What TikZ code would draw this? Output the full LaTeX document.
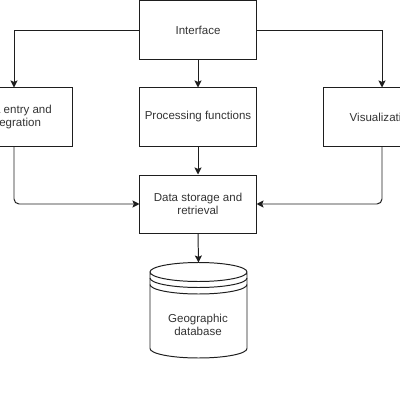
\documentclass[tikz,border=0pt]{standalone}
\usepackage{fontspec}
\setmainfont{Liberation Sans}
\usetikzlibrary{arrows.meta}

\definecolor{inkd}{RGB}{30,30,30}
\definecolor{textd}{RGB}{51,51,51}

\tikzset{
    box/.style = {draw = inkd, line width = 0.7pt, rectangle, minimum width = 2.9cm, minimum height = 1.45cm,
                  align = center, text = textd, font = \fontsize{8.2}{9.5}\selectfont, inner sep = 0pt},
    link/.style = {draw = inkd, line width = 0.7pt, -{Stealth[length = 5pt, width = 5pt, inset = 1pt]}}
}

\begin{document}
\begin{tikzpicture}[x = 0.025cm, y = -0.025cm]
                    \useasboundingbox (0,0) rectangle (400,400);
                    \clip (0,0) rectangle (400,400);
                    \node[box] (iface) at (198,30) {Interface};
                    \node[box] (entry) at (14,117) {Data entry and\\integration};
                    \node[box] (proc) at (198,117) {Processing functions};
                    \node[box] (visual) at (382,117) {Visualization};
                    \node[box] (store) at (198,204) {Data storage and\\retrieval};
                    % database drum
                    \draw[draw = inkd, line width = 0.7pt, fill = white] (150,272) -- (150,348.5)
                        arc[start angle = 180, end angle = 360, x radius = 48.5, y radius = -9.5]
                        -- (247,272) arc[start angle = 0, end angle = 360, x radius = 48.5, y radius = -9.5];
                    \draw[draw = inkd, line width = 0.7pt] (150,278) arc[start angle = 180, end angle = 360, x radius = 48.5, y radius = -9.5];
                    \draw[draw = inkd, line width = 0.7pt] (150,284.5) arc[start angle = 180, end angle = 360, x radius = 48.5, y radius = -9.5];
                    \coordinate (dbtop) at (198.5,262.5);
                    \node[text = textd, align = center, font = \fontsize{8.2}{9.5}\selectfont] (db) at (198,325) {Geographic\\database};
                    \draw[link] (iface.west) -| (entry.north);
                    \draw[link] (iface.south) -- (proc.north);
                    \draw[link] (iface.east) -| (visual.north);
                    \draw[link] (proc.south) -- (store.north);
                    \draw[link, rounded corners = 0.125cm] (entry.south) |- (store.west);
                    \draw[link, rounded corners = 0.125cm] (visual.south) |- (store.east);
                    \draw[link] (store.south) -- (dbtop);
                \end{tikzpicture}
\end{document}
